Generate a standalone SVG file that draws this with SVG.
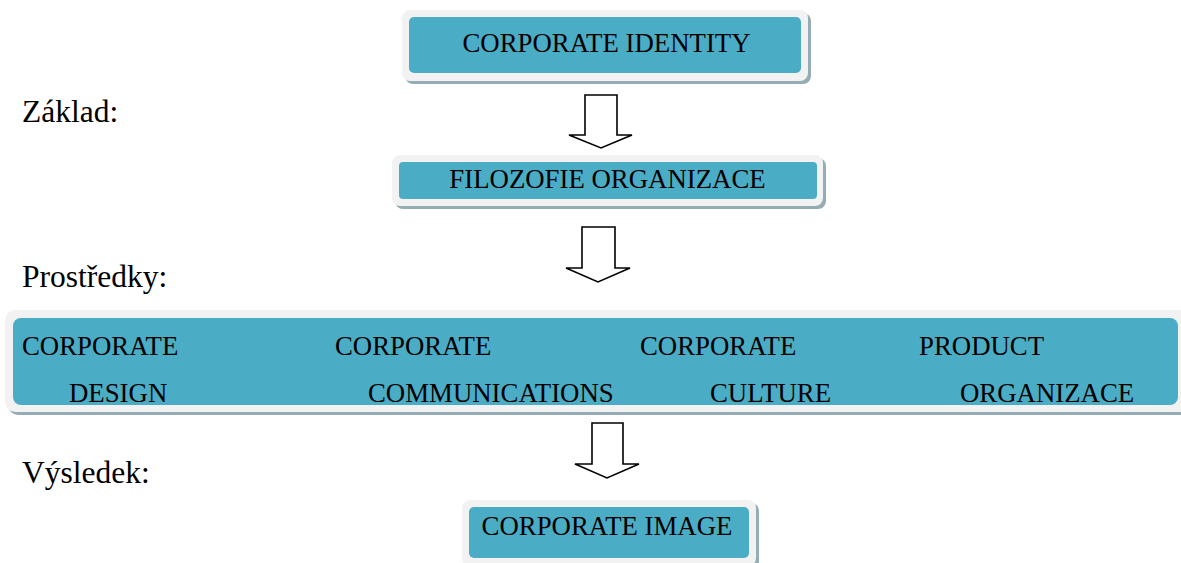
<svg xmlns="http://www.w3.org/2000/svg" width="1181" height="563" viewBox="0 0 1181 563">
  <style>
    .shadow { fill: #94adb5; }
    .frame { fill: #f2f2f2; }
    .fill { fill: #4bacc6; }
    .t { font-family: 'Liberation Serif', 'DejaVu Serif', serif; font-size: 26.8px; fill: #000; }
    .c { text-anchor: middle; }
    .lbl { font-family: 'Liberation Serif', 'DejaVu Serif', serif; font-size: 31.5px; fill: #000; }
    .arrow { fill: #fff; stroke: #000; stroke-width: 1.6; stroke-linejoin: miter; }
  </style>

  <rect width="1181" height="563" fill="#fff"/>

  <!-- section labels -->
  <text class="lbl" x="22" y="122">Základ:</text>
  <text class="lbl" x="22" y="287">Prostředky:</text>
  <text class="lbl" x="22" y="483">Výsledek:</text>

  <g id="corporate-identity">
    <rect class="shadow" x="405" y="13" width="406" height="71" rx="8"/>
    <rect class="frame" x="402" y="10" width="406" height="71" rx="8"/>
    <rect class="fill" x="409" y="17" width="392" height="56" rx="5"/>
    <text class="t c" x="606.5" y="52">CORPORATE IDENTITY</text>
  </g>

  <g id="filozofie-organizace">
    <rect class="shadow" x="395" y="158" width="431" height="51" rx="8"/>
    <rect class="frame" x="392" y="155" width="431" height="51" rx="8"/>
    <rect class="fill" x="399" y="162" width="418" height="37" rx="4"/>
    <text class="t c" x="607.5" y="188">FILOZOFIE ORGANIZACE</text>
  </g>

  <g id="prostredky">
    <rect class="shadow" x="8" y="313" width="1185" height="102" rx="10"/>
    <rect class="frame" x="5" y="310" width="1185" height="102" rx="10"/>
    <rect class="fill" x="13" y="318" width="1165" height="87" rx="8"/>
    <text class="t" x="22" y="355">CORPORATE</text>
    <text class="t" x="69" y="402">DESIGN</text>
    <text class="t" x="335" y="355">CORPORATE</text>
    <text class="t" x="368" y="402">COMMUNICATIONS</text>
    <text class="t" x="640" y="355">CORPORATE</text>
    <text class="t" x="710" y="402">CULTURE</text>
    <text class="t" x="919" y="355">PRODUCT</text>
    <text class="t" x="960" y="402">ORGANIZACE</text>
  </g>

  <g id="corporate-image">
    <rect class="shadow" x="465" y="503" width="294" height="66" rx="8"/>
    <rect class="frame" x="462" y="500" width="294" height="66" rx="8"/>
    <rect class="fill" x="469" y="507" width="280" height="51" rx="5"/>
    <text class="t c" x="607" y="535">CORPORATE IMAGE</text>
  </g>

  <!-- block arrows between the levels -->
  <g id="connectors">
    <polygon class="arrow" points="585,95 617,95 617,135 632,135 601,148 569,135 585,135"/>
    <polygon class="arrow" points="582,227 615,227 615,268 630,268 598,282 566,268 582,268"/>
    <polygon class="arrow" points="592,423 623,423 623,464 639,464 607,478 575,464 592,464"/>
  </g>
</svg>
